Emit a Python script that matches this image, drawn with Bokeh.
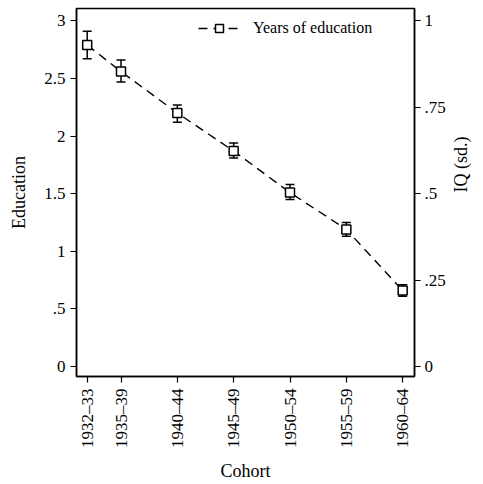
import math
from bokeh.plotting import figure
from bokeh.models import (ColumnDataSource, Range1d, LinearAxis, FixedTicker, Whisker,
                          TeeHead, Legend, LegendItem)
from bokeh.embed import file_html
from bokeh.resources import INLINE

cohort_start = [1932, 1935, 1940, 1945, 1950, 1955, 1960]
cohort_labels = ["1932\u201333", "1935\u201339", "1940\u201344", "1945\u201349",
                 "1950\u201354", "1955\u201359", "1960\u201364"]
education = [2.79, 2.56, 2.20, 1.87, 1.51, 1.19, 0.66]
edu_upper = [2.91, 2.66, 2.27, 1.94, 1.58, 1.25, 0.71]
edu_lower = [2.67, 2.47, 2.12, 1.81, 1.45, 1.13, 0.61]

left_ticks = [0, 0.5, 1, 1.5, 2, 2.5, 3]
left_tick_labels = ["0", ".5", "1", "1.5", "2", "2.5", "3"]
right_ticks = [0, 0.25, 0.5, 0.75, 1]
right_tick_labels = ["0", ".25", ".5", ".75", "1"]

FONT = "Liberation Serif"

src = ColumnDataSource(dict(x=cohort_start, y=education, up=edu_upper, lo=edu_lower))

ymin, ymax = -0.086, 3.107
p = figure(width=483, height=484, output_backend="svg", toolbar_location=None,
           x_range=Range1d(1931.05, 1961.05), y_range=Range1d(ymin, ymax),
           min_border_left=76, min_border_right=64, min_border_top=8, min_border_bottom=103)
p.extra_y_ranges = {"iq": Range1d(ymin / 3.0, ymax / 3.0)}

p.xgrid.visible = False
p.ygrid.visible = False
p.outline_line_color = "black"
p.outline_line_width = 1.5
p.background_fill_color = "white"
p.border_fill_color = "white"

def style_axis(ax):
    ax.axis_line_color = "black"
    ax.axis_line_width = 1.5
    ax.major_tick_line_color = "black"
    ax.major_tick_line_width = 1.2
    ax.major_tick_out = 6
    ax.major_tick_in = 0
    ax.minor_tick_line_color = None
    ax.major_label_text_font = FONT
    ax.major_label_text_font_size = "17px"
    ax.major_label_text_color = "black"
    ax.axis_label_text_font = FONT
    ax.axis_label_text_font_size = "18px"
    ax.axis_label_text_font_style = "normal"
    ax.axis_label_text_color = "black"

xa = p.xaxis[0]
style_axis(xa)
xa.ticker = FixedTicker(ticks=cohort_start)
xa.major_label_overrides = {c: l for c, l in zip(cohort_start, cohort_labels)}
xa.major_label_orientation = math.pi / 2
xa.major_label_standoff = 6
xa.axis_label = "Cohort"
xa.axis_label_standoff = 10

ya = p.yaxis[0]
style_axis(ya)
ya.ticker = FixedTicker(ticks=left_ticks)
ya.major_label_overrides = {t: l for t, l in zip(left_ticks, left_tick_labels)}
ya.major_label_orientation = "horizontal"
ya.major_label_standoff = 5
ya.axis_label = "Education"
ya.axis_label_standoff = 12

ra = LinearAxis(y_range_name="iq")
style_axis(ra)
ra.ticker = FixedTicker(ticks=right_ticks)
ra.major_label_overrides = {t: l for t, l in zip(right_ticks, right_tick_labels)}
ra.major_label_orientation = "horizontal"
ra.major_label_standoff = 4
ra.axis_label = "IQ (sd.)"
ra.axis_label_standoff = 12
ra.axis_label_orientation = math.pi / 2
p.add_layout(ra, "right")

wh = Whisker(base="x", upper="up", lower="lo", source=src, line_color="black", line_width=1.5,
             upper_head=TeeHead(size=9, line_color="black", line_width=1.5),
             lower_head=TeeHead(size=9, line_color="black", line_width=1.5))
p.add_layout(wh)

ln = p.line("x", "y", source=src, line_color="black", line_width=1.4, line_dash="9 6")
sc = p.scatter("x", "y", source=src, marker="square", size=9, fill_color="white",
               line_color="black", line_width=1.5)

leg = Legend(items=[LegendItem(label="Years of education", renderers=[ln, sc])],
             location=(122, 338), orientation="vertical",
             label_text_font=FONT, label_text_font_size="16px", label_text_color="black",
             glyph_width=42, glyph_height=20, label_standoff=13, padding=0, spacing=0,
             margin=0, border_line_color=None, background_fill_alpha=0)
p.add_layout(leg)

open("out.html", "w").write(file_html(p, INLINE))
